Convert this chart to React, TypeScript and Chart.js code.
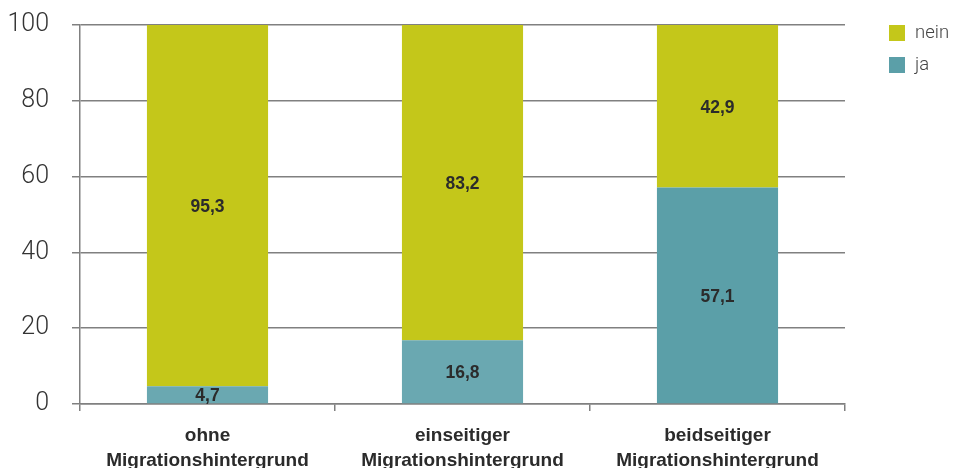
import React, { useEffect, useRef } from "react";
import { Chart, registerables } from "chart.js";

Chart.register(...registerables);

const categories: string[][] = [
  ["ohne", "Migrationshintergrund"],
  ["einseitiger", "Migrationshintergrund"],
  ["beidseitiger", "Migrationshintergrund"],
];
const jaValues = [4.7, 16.8, 57.1];
const neinValues = [95.3, 83.2, 42.9];
const jaColors = ["#6aa8b1", "#6aa8b1", "#5b9fa8"];
const neinColor = "#c4c71a";
const yTicks = [0, 20, 40, 60, 80, 100];

const fmt = (v: number) => v.toFixed(1).replace(".", ",");

const labelPlugin = {
  id: "barLabels",
  afterDatasetsDraw(chart: any) {
    const ctx = chart.ctx;
    ctx.save();
    ctx.font = "bold 17.5px 'Liberation Sans', Arial, sans-serif";
    ctx.fillStyle = "#2b2b2b";
    ctx.textAlign = "center";
    ctx.textBaseline = "middle";
    chart.data.datasets.forEach((ds: any, di: number) => {
      const meta = chart.getDatasetMeta(di);
      meta.data.forEach((el: any, i: number) => {
        const v = ds.data[i];
        const y = (el.y + el.base) / 2;
        ctx.fillText(fmt(v), el.x, y + 1.5);
      });
    });
    ctx.restore();
  },
};

const legendPlugin = {
  id: "customLegend",
  afterDraw(chart: any) {
    const ctx = chart.ctx;
    ctx.save();
    const order = [1, 0];
    const x = chart.chartArea.right + 44;
    let y = chart.chartArea.top;
    ctx.font = "300 18.5px Roboto, 'Liberation Sans', Arial, sans-serif";
    ctx.textBaseline = "middle";
    ctx.textAlign = "left";
    order.forEach((di) => {
      const ds = chart.data.datasets[di];
      const c = Array.isArray(ds.backgroundColor) ? ds.backgroundColor[2] : ds.backgroundColor;
      ctx.fillStyle = c;
      ctx.fillRect(x, y, 16, 16);
      ctx.fillStyle = "#444";
      ctx.fillText(ds.label, x + 26, y + 8);
      y += 32;
    });
    ctx.restore();
  },
};

export default function App() {
  const ref = useRef<HTMLCanvasElement | null>(null);
  useEffect(() => {
    if (!ref.current) return;
    const chart = new Chart(ref.current, {
      type: "bar",
      data: {
        labels: categories,
        datasets: [
          {
            label: "ja",
            data: jaValues,
            backgroundColor: jaColors,
            barPercentage: 0.475,
            categoryPercentage: 1,
          },
          {
            label: "nein",
            data: neinValues,
            backgroundColor: neinColor,
            barPercentage: 0.475,
            categoryPercentage: 1,
          },
        ],
      },
      options: {
        animation: false,
        responsive: true,
        maintainAspectRatio: false,
        layout: { padding: { top: 17, right: 106, left: 0, bottom: 0 } },
        plugins: { legend: { display: false }, tooltip: { enabled: false } },
        scales: {
          x: {
            stacked: true,
            afterFit: (axis: any) => {
              axis.height = 64;
              axis.paddingLeft = 0;
              axis.paddingRight = 0;
            },
            grid: {
              display: true,
              drawOnChartArea: false,
              drawTicks: true,
              tickLength: 7,
              offset: true,
              color: "#808080",
              lineWidth: 1.5,
            },
            border: { display: true, color: "#808080", width: 1.5 },
            ticks: {
              color: "#2b2b2b",
              padding: 12,
              font: { family: "'Liberation Sans', Arial, sans-serif", size: 19, weight: "bold", lineHeight: 1.32 },
              maxRotation: 0,
              autoSkip: false,
            },
          },
          y: {
            stacked: true,
            min: 0,
            max: 100,
            afterBuildTicks: (axis: any) => {
              axis.ticks = yTicks.map((v) => ({ value: v }));
            },
            afterFit: (axis: any) => {
              axis.width = 72;
              axis.paddingTop = 0;
              axis.paddingBottom = 0;
            },
            grid: {
              color: "#808080",
              lineWidth: 1.5,
              drawTicks: true,
              tickLength: 8,
            },
            border: { display: true, color: "#808080", width: 1.5 },
            ticks: {
              color: "#333",
              padding: 23,
              font: { family: "Roboto, 'Liberation Sans', sans-serif", size: 25, weight: "300" },
            },
          },
        },
      },
      plugins: [labelPlugin, legendPlugin],
    });
    return () => chart.destroy();
  }, []);
  return (
    <div style={{ width: 943, height: 460, position: "relative" }}>
      <canvas ref={ref} />
    </div>
  );
}
